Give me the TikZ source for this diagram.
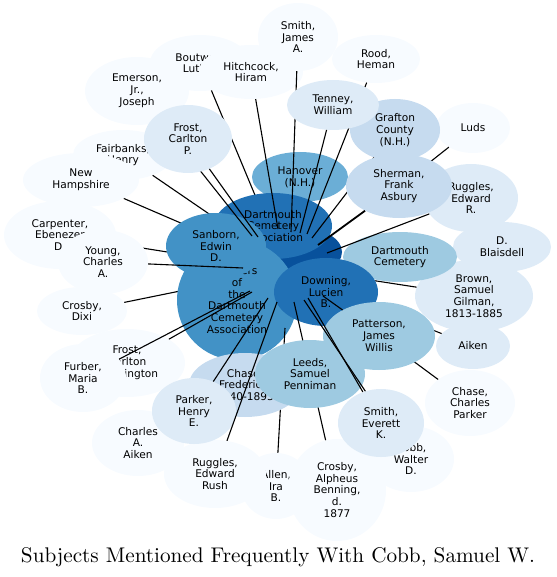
\documentclass[tikz,border=0pt]{standalone}
\usepackage{fontspec}
\newfontfamily\labfont{DejaVu Sans}
\newfontfamily\titlefont[Extension=.otf]{lmroman10-regular}
\usepackage{tikz}
\usetikzlibrary{shapes.geometric}
\definecolor{b0}{HTML}{F7FBFF}
\definecolor{b1}{HTML}{DEEBF7}
\definecolor{b2}{HTML}{C6DBEF}
\definecolor{b3}{HTML}{9ECAE1}
\definecolor{b4}{HTML}{6BAED6}
\definecolor{b5}{HTML}{4292C6}
\definecolor{b6}{HTML}{2171B5}
\definecolor{b7}{HTML}{08519C}
\begin{document}
\begin{tikzpicture}[x=1pt,y=-1pt]
\tikzstyle{blob}=[ellipse,inner sep=0pt,align=center,font=\labfont\fontsize{10.6}{11.8}\selectfont]
\tikzstyle{lk}=[line width=1.1pt]
\tikzset{sz/.style 2 args={minimum width=#1pt,minimum height=#2pt}}
\useasboundingbox (0,0) rectangle (556,577);
% loose ends of the links, near the middle
\coordinate (eCar) at (180,254);
\coordinate (eBou) at (262,212);
\coordinate (eFai) at (215,218);
\coordinate (eNew) at (190,227);
\coordinate (eDix) at (190,289);
\coordinate (eBro) at (370,280);
\coordinate (eAik) at (425,327);
\coordinate (eChp) at (405,355);
\coordinate (eLud) at (420,170);
\coordinate (eRoo) at (307,234);
\coordinate (eSja) at (291,232);
\coordinate (eEme) at (252,236);
\coordinate (eGra) at (312,238);
\coordinate (eCab) at (294,302);
\coordinate (eAll) at (285,328);
\coordinate (eCwd) at (304,300);
\coordinate (eHit) at (278,229);
\coordinate (eTen) at (300,233);
\coordinate (eFcp) at (258,237);
\coordinate (eShe) at (318,245);
\coordinate (eRer) at (327,253);
\coordinate (eYou) at (243,268);
\coordinate (eFur) at (250,291);
\coordinate (eFcw) at (252,292);
\coordinate (ePar) at (268,298);
\coordinate (eRru) at (277,302);
\coordinate (ePat) at (323,296);
\coordinate (eSek) at (308,298);
% back row
\node[blob,fill=b7,sz={88}{50}] (cobb) at (298,252) {};
\node[blob,fill=b0,sz={80}{68}] (smithja) at (298,37) {Smith,\\James\\A.};
\node[blob,fill=b0,sz={88}{48}] (rood) at (376,59) {Rood,\\Heman};
\node[blob,fill=b0,sz={100}{56}] (boutwell) at (200,63) {Boutwell,\\Luther};
\node[blob,fill=b0,sz={104}{54}] (hitchcock) at (251,72) {Hitchcock,\\Hiram};
\node[blob,fill=b0,sz={104}{68}] (emerson) at (137,91) {Emerson,\\Jr.,\\Joseph};
\node[blob,fill=b0,sz={100}{50}] (fairbanks) at (123,155) {Fairbanks,\\Henry};
\node[blob,fill=b0,sz={116}{54}] (newhamp) at (81,180) {New\\Hampshire};
\node[blob,fill=b0,sz={112}{68}] (carpenter) at (60,235) {Carpenter,\\Ebenezer\\D.};
\draw[lk] (carpenter) -- (eCar);
\node[blob,fill=b0,sz={90}{64}] (young) at (103,262) {Young,\\Charles\\A.};
\node[blob,fill=b0,sz={90}{48}] (crosbydixi) at (82,311) {Crosby,\\Dixi};
\node[blob,fill=b0,sz={116}{68}] (frostcw) at (127,363) {Frost,\\Carlton\\Washington};
\node[blob,fill=b0,sz={86}{68}] (furber) at (83,378) {Furber,\\Maria\\B.};
\node[blob,fill=b0,sz={92}{66}] (charlesaiken) at (138,443) {Charles\\A.\\Aiken};
\node[blob,fill=b0,sz={70}{66}] (allen) at (276,486) {Allen,\\Ira\\B.};
\node[blob,fill=b0,sz={102}{68}] (ruggleserush) at (215,474) {Ruggles,\\Edward\\Rush};
\node[blob,fill=b0,sz={98}{102}] (crosbyab) at (337,490) {Crosby,\\Alpheus\\Benning,\\d.\\1877};
\node[blob,fill=b0,sz={86}{66}] (cobbwd) at (411,459) {Cobb,\\Walter\\D.};
\node[blob,fill=b0,sz={90}{66}] (chasecp) at (470,403) {Chase,\\Charles\\Parker};
\node[blob,fill=b0,sz={74}{50}] (luds) at (473,128) {Luds};
\node[blob,fill=b1,sz={94}{68}] (ruggleser) at (471,198) {Ruggles,\\Edward\\R.};
\node[blob,fill=b1,sz={98}{50}] (blaisdell) at (502,247) {D.\\Blaisdell};
\node[blob,fill=b1,sz={118}{72}] (brown) at (474,296) {Brown,\\Samuel\\Gilman,\\1813-1885};
\node[blob,fill=b1,sz={74}{46}] (aiken) at (473,346) {Aiken};
\draw[lk] (boutwell) -- (eBou);
\draw[lk] (fairbanks) -- (eFai);
\draw[lk] (newhamp) -- (eNew);
\draw[lk] (crosbydixi) -- (eDix);
\draw[lk] (brown) -- (eBro);
\draw[lk] (aiken) -- (eAik);
\draw[lk] (chasecp) -- (eChp);
\draw[lk] (luds) -- (eLud);
% middle row
\node[blob,fill=b4,sz={96}{50}] (hanover) at (300,177) {Hanover\\(N.H.)};
\node[blob,fill=b6,sz={118}{66}] (dca) at (273,226) {Dartmouth\\Cemetery\\Association};
\node[blob,fill=b2,sz={90}{62}] (grafton) at (395,130) {Grafton\\County\\(N.H.)};
\node[blob,fill=b5,sz={120}{120}] (officers) at (237,300) {Officers\\of\\the\\Dartmouth\\Cemetery\\Association};
\node[blob,fill=b5,sz={100}{66}] (sanborn) at (216,246) {Sanborn,\\Edwin\\D.};
\node[blob,fill=b3,sz={114}{50}] (dartcem) at (400,257) {Dartmouth\\Cemetery};
\node[blob,fill=b6,sz={104}{68}] (downing) at (326,292) {Downing,\\Lucien\\B.};
\draw[lk] (rood) -- (eRoo);
\draw[lk] (smithja) -- (eSja);
\draw[lk] (emerson) -- (eEme);
\draw[lk] (grafton) -- (eGra);
\draw[lk] (crosbyab) -- (eCab);
\draw[lk] (allen) -- (eAll);
\node[blob,fill=b1,sz={92}{50}] (tenney) at (333,105) {Tenney,\\William};
\node[blob,fill=b1,sz={88}{68}] (frostcp) at (188,139) {Frost,\\Carlton\\P.};
\node[blob,fill=b2,sz={106}{64}] (sherman) at (399,186) {Sherman,\\Frank\\Asbury};
\node[blob,fill=b2,sz={112}{64}] (chasef) at (245,385) {Chase,\\Frederick,\\1840-1893};
\node[blob,fill=b3,sz={110}{68}] (leeds) at (310,374) {Leeds,\\Samuel\\Penniman};
\node[blob,fill=b3,sz={112}{68}] (patterson) at (379,336) {Patterson,\\James\\Willis};
\node[blob,fill=b1,sz={84}{66}] (parker) at (194,411) {Parker,\\Henry\\E.};
\draw[lk] (cobbwd) -- (eCwd);
\node[blob,fill=b1,sz={86}{68}] (smithek) at (381,423) {Smith,\\Everett\\K.};
% front links
\draw[lk] (hitchcock) -- (eHit);
\draw[lk] (tenney) -- (eTen);
\draw[lk] (frostcp) -- (eFcp);
\draw[lk,line width=1.8pt] (sherman) -- (eShe);
\draw[lk] (ruggleser) -- (eRer);
\draw[lk] (young) -- (eYou);
\draw[lk] (furber) -- (eFur);
\draw[lk] (frostcw) -- (eFcw);
\draw[lk] (parker) -- (ePar);
\draw[lk] (ruggleserush) -- (eRru);
\draw[lk] (patterson) -- (ePat);
\draw[lk] (smithek) -- (eSek);
\node[font=\titlefont\fontsize{21.2}{25}\selectfont,anchor=base] (title) at (278,562) {Subjects Mentioned Frequently With Cobb, Samuel W.};
\end{tikzpicture}
\end{document}
